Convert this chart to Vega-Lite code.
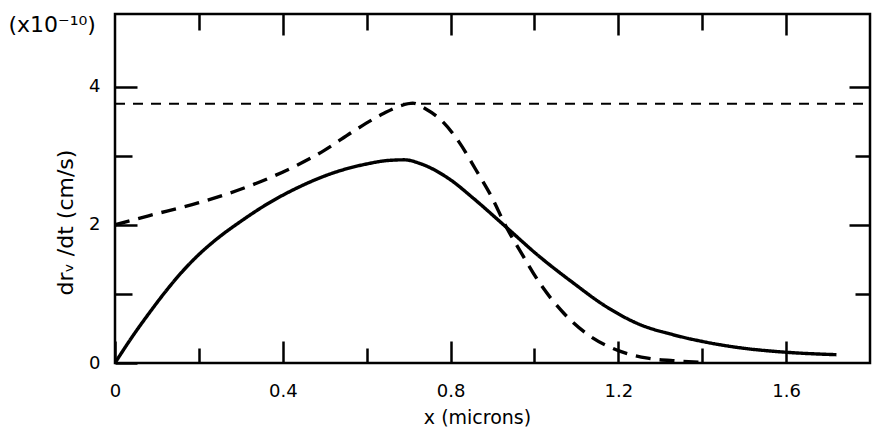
{
  "$schema": "https://vega.github.io/schema/vega-lite/v6.json",
  "width": 755,
  "height": 349,
  "autosize": {"type": "none"},
  "padding": {"left": 115, "top": 14, "right": 5, "bottom": 75},
  "config": {
    "view": {"stroke": "black", "strokeWidth": 2.5},
    "font": "DejaVu Sans",
    "axis": {
      "domain": false,
      "grid": false,
      "tickColor": "black",
      "tickWidth": 2.5,
      "labelColor": "black",
      "labelFont": "DejaVu Sans",
      "labelFontSize": 18,
      "titleColor": "black",
      "titleFont": "DejaVu Sans",
      "titleFontSize": 19,
      "titleFontWeight": "normal"
    }
  },
  "datasets": {
    "curves": [
      {"x": 0, "v": 0, "series": "solid"},
      {"x": 0.04, "v": 0.37, "series": "solid"},
      {"x": 0.08, "v": 0.71, "series": "solid"},
      {"x": 0.12, "v": 1.03, "series": "solid"},
      {"x": 0.16, "v": 1.32, "series": "solid"},
      {"x": 0.2, "v": 1.57, "series": "solid"},
      {"x": 0.25, "v": 1.83, "series": "solid"},
      {"x": 0.3, "v": 2.05, "series": "solid"},
      {"x": 0.36, "v": 2.29, "series": "solid"},
      {"x": 0.44, "v": 2.55, "series": "solid"},
      {"x": 0.52, "v": 2.75, "series": "solid"},
      {"x": 0.6, "v": 2.88, "series": "solid"},
      {"x": 0.65, "v": 2.93, "series": "solid"},
      {"x": 0.69, "v": 2.94, "series": "solid"},
      {"x": 0.73, "v": 2.88, "series": "solid"},
      {"x": 0.8, "v": 2.65, "series": "solid"},
      {"x": 0.855, "v": 2.38, "series": "solid"},
      {"x": 0.93, "v": 1.98, "series": "solid"},
      {"x": 1.01, "v": 1.55, "series": "solid"},
      {"x": 1.09, "v": 1.17, "series": "solid"},
      {"x": 1.17, "v": 0.82, "series": "solid"},
      {"x": 1.25, "v": 0.56, "series": "solid"},
      {"x": 1.33, "v": 0.41, "series": "solid"},
      {"x": 1.41, "v": 0.3, "series": "solid"},
      {"x": 1.49, "v": 0.22, "series": "solid"},
      {"x": 1.59, "v": 0.16, "series": "solid"},
      {"x": 1.72, "v": 0.12, "series": "solid"},
      {"x": 0, "v": 2.0, "series": "dashed"},
      {"x": 0.08, "v": 2.13, "series": "dashed"},
      {"x": 0.2, "v": 2.32, "series": "dashed"},
      {"x": 0.32, "v": 2.56, "series": "dashed"},
      {"x": 0.43, "v": 2.85, "series": "dashed"},
      {"x": 0.5, "v": 3.08, "series": "dashed"},
      {"x": 0.57, "v": 3.36, "series": "dashed"},
      {"x": 0.64, "v": 3.61, "series": "dashed"},
      {"x": 0.68, "v": 3.72, "series": "dashed"},
      {"x": 0.71, "v": 3.76, "series": "dashed"},
      {"x": 0.74, "v": 3.68, "series": "dashed"},
      {"x": 0.78, "v": 3.5, "series": "dashed"},
      {"x": 0.82, "v": 3.2, "series": "dashed"},
      {"x": 0.86, "v": 2.8, "series": "dashed"},
      {"x": 0.9, "v": 2.38, "series": "dashed"},
      {"x": 0.93, "v": 2.0, "series": "dashed"},
      {"x": 0.97, "v": 1.58, "series": "dashed"},
      {"x": 1.01, "v": 1.18, "series": "dashed"},
      {"x": 1.07, "v": 0.72, "series": "dashed"},
      {"x": 1.13, "v": 0.4, "series": "dashed"},
      {"x": 1.2, "v": 0.18, "series": "dashed"},
      {"x": 1.27, "v": 0.07, "series": "dashed"},
      {"x": 1.34, "v": 0.03, "series": "dashed"},
      {"x": 1.4, "v": 0.01, "series": "dashed"}
    ],
    "limit": [
      {"x": 0, "v": 3.75},
      {"x": 1.8, "v": 3.75}
    ]
  },
  "layer": [
    {
      "data": {"name": "curves"},
      "mark": {"type": "line", "color": "black", "strokeWidth": 3.4, "interpolate": "monotone", "clip": true},
      "encoding": {
        "x": {
          "field": "x",
          "type": "quantitative",
          "scale": {"domain": [0, 1.8], "nice": false, "zero": false},
          "axis": {
            "orient": "bottom",
            "values": [0, 0.2, 0.4, 0.6, 0.8, 1.0, 1.2, 1.4, 1.6],
            "labelExpr": "round(datum.value * 5) % 2 == 0 ? format(datum.value, '~g') : ''",
            "tickSize": {"condition": {"test": "round(datum.value * 5) % 2 == 0", "value": -22}, "value": -15},
            "labelPadding": 41,
            "labelFlush": false,
            "title": "x (microns)",
            "titleX": 362,
            "titleY": 54,
            "titleBaseline": "middle",
            "titleAnchor": null
          }
        },
        "y": {
          "field": "v",
          "type": "quantitative",
          "scale": {"domain": [0, 5.05], "nice": false},
          "axis": {
            "orient": "left",
            "values": [0, 1, 2, 3, 4],
            "labelExpr": "datum.value % 2 == 0 ? format(datum.value, '~g') : ''",
            "tickSize": {"condition": {"test": "datum.value % 2 == 0", "value": -22}, "value": -17},
            "labelPadding": 37,
            "labelFlush": false,
            "title": "drᵥ /dt   (cm/s)",
            "titleFontSize": 22,
            "titleAngle": 270,
            "titleX": -50,
            "titleY": 208,
            "titleAlign": "center",
            "titleBaseline": "middle"
          }
        },
        "detail": {"field": "series"},
        "strokeDash": {
          "field": "series",
          "type": "nominal",
          "scale": {"domain": ["solid", "dashed"], "range": [[1, 0], [15, 9]]},
          "legend": null
        }
      }
    },
    {
      "data": {"name": "limit"},
      "mark": {"type": "line", "color": "black", "strokeWidth": 2, "strokeDash": [10, 8]},
      "encoding": {
        "x": {
          "field": "x",
          "type": "quantitative",
          "axis": {
            "orient": "top",
            "values": [0.2, 0.4, 0.6, 0.8, 1.0, 1.2, 1.4, 1.6],
            "labels": false,
            "tickSize": {"condition": {"test": "round(datum.value * 5) % 2 == 0", "value": -21}, "value": -16},
            "title": "(x10⁻¹⁰)",
            "titleFontSize": 22,
            "titleX": -107,
            "titleY": 10,
            "titleAlign": "left",
            "titleBaseline": "middle",
            "titleAnchor": null
          }
        },
        "y": {
          "field": "v",
          "type": "quantitative",
          "axis": {
            "orient": "right",
            "values": [1, 2, 3, 4],
            "labels": false,
            "tickSize": {"condition": {"test": "datum.value % 2 == 0", "value": -21}, "value": -15},
            "title": null
          }
        }
      }
    }
  ],
  "resolve": {"axis": {"x": "independent", "y": "independent"}}
}
